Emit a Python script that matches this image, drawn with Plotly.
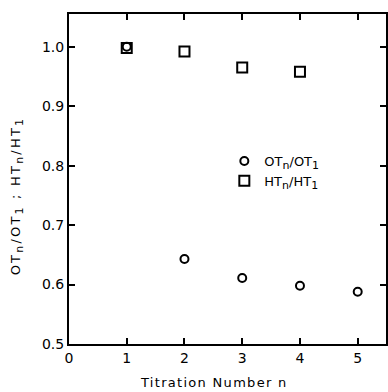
import plotly.graph_objects as go

n_ot = [1, 2, 3, 4, 5]
ot_ratio = [1.0, 0.643, 0.611, 0.598, 0.588]
n_ht = [1, 2, 3, 4]
ht_ratio = [0.998, 0.992, 0.965, 0.958]

x_ticks = [0, 1, 2, 3, 4, 5]
x_ticktext = ["0", "1", "2", "3", "4", "5"]
y_ticks = [0.5, 0.6, 0.7, 0.8, 0.9, 1.0]
y_ticktext = ["0.5", "0.6", "0.7", "0.8", "0.9", "1.0"]

FONT = "DejaVu Sans"


def sub(s, px=11):
    return f'<sub><span style="font-size:{px}px">{s}</span></sub>'


ot_label = f"OT{sub('n')}/OT{sub('1')}"
ht_label = f"HT{sub('n')}/HT{sub('1')}"
y_title = (f'<span style="letter-spacing:2.2px">OT{sub("n")}/OT{sub("1")} ; '
           f'HT{sub("n")}/HT{sub("1")}</span>')
x_title = '<span style="letter-spacing:1.3px">Titration Number n</span>'

fig = go.Figure()
fig.add_trace(go.Scatter(
    x=n_ot, y=ot_ratio, mode="markers", name=ot_label,
    marker=dict(symbol="circle-open", size=8, color="black", line=dict(width=2, color="black")),
))
fig.add_trace(go.Scatter(
    x=n_ht, y=ht_ratio, mode="markers", name=ht_label,
    marker=dict(symbol="square-open", size=10, color="black", line=dict(width=2, color="black")),
))

fig.update_layout(
    width=388, height=392,
    margin=dict(l=69, r=0, t=14, b=48),
    paper_bgcolor="white", plot_bgcolor="white",
    font=dict(family=FONT, size=13, color="black"),
    showlegend=True,
    legend=dict(x=0.49, y=0.6, xanchor="left", yanchor="top",
                bgcolor="rgba(0,0,0,0)", borderwidth=0,
                font=dict(family=FONT, size=13, color="black"),
                itemwidth=30, tracegroupgap=0),
    xaxis=dict(range=[0, 5.49], tickvals=x_ticks, ticktext=x_ticktext,
               ticks="inside", ticklen=6, tickwidth=1.5, tickcolor="black",
               showline=True, linewidth=2, linecolor="black", mirror="ticks",
               showgrid=False, zeroline=False,
               tickfont=dict(family=FONT, size=14)),
    yaxis=dict(range=[0.5, 1.055], tickvals=y_ticks, ticktext=y_ticktext,
               ticks="inside", ticklen=6, tickwidth=1.5, tickcolor="black",
               showline=True, linewidth=2, linecolor="black", mirror="ticks",
               showgrid=False, zeroline=False,
               tickfont=dict(family=FONT, size=14)),
    annotations=[
        dict(text=x_title, xref="paper", yref="paper", x=(215 - 69) / 319, y=-(382 - 344) / 330,
             xanchor="center", yanchor="middle", showarrow=False,
             font=dict(family=FONT, size=13, color="black")),
        dict(text=y_title, xref="paper", yref="paper", x=-(69 - 17) / 319, y=(344 - 196) / 330,
             xanchor="center", yanchor="middle", showarrow=False, textangle=-90,
             font=dict(family=FONT, size=13, color="black")),
    ],
)

fig.write_html("out.html", post_script="document.body.style.margin='0';",
               config={"displayModeBar": False})
